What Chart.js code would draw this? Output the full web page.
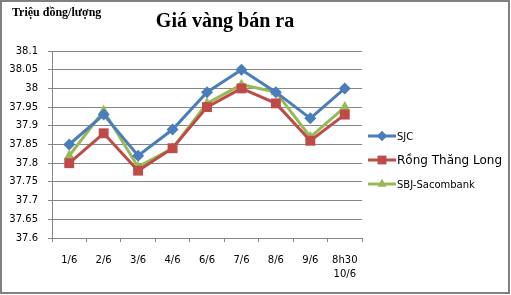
<!DOCTYPE html>
<html>
<head>
<meta charset="utf-8">
<script src="https://cdn.jsdelivr.net/npm/chart.js@4/dist/chart.umd.min.js"></script>
<style>
html,body{margin:0;padding:0;background:#fff;}
#wrap{width:511px;height:295px;position:relative;}
</style>
</head>
<body>
<div id="wrap"><canvas id="goldChart" width="511" height="295"></canvas></div>
<script>

const dayLabels = ["1/6","2/6","3/6","4/6","6/6","7/6","8/6","9/6",["8h30","10/6"]];
const sjcPrice = [37.85,37.93,37.82,37.89,37.99,38.05,37.99,37.92,38.00];
const rongPrice = [37.80,37.88,37.78,37.84,37.95,38.00,37.96,37.86,37.93];
const sbjPrice = [37.82,37.94,37.79,37.84,37.96,38.01,37.99,37.87,37.95];
const yTicks = [37.6,37.65,37.7,37.75,37.8,37.85,37.9,37.95,38,38.05,38.1];

const gridGray = "#868686";

// title, unit text, outer frame and legend
const extras = {
id:"extras",
afterDraw(chart){
const ctx = chart.ctx;
ctx.save();
ctx.strokeStyle = "#808080";
ctx.lineWidth = 2;
ctx.strokeRect(1,1,508,292);

ctx.fillStyle = "#000";
ctx.textBaseline = "middle";
ctx.textAlign = "left";
ctx.font = "bold 12px 'Liberation Serif'";
ctx.fillText("Triệu đồng/lượng",12,13);
ctx.textAlign = "center";
ctx.font = "bold 20px 'Liberation Serif'";
ctx.fillText("Giá vàng bán ra",225,22);

// legend
const rows = [
{text:"SJC",y:136,font:"10px 'DejaVu Sans'"},
{text:"Rồng Thăng Long",y:160,font:"12px 'DejaVu Sans'"},
{text:"SBJ-Sacombank",y:184,font:"10px 'DejaVu Sans'"}
];
chart.data.datasets.forEach((ds,i)=>{
const r = rows[i];
ctx.strokeStyle = ds.borderColor;
ctx.lineWidth = 3;
ctx.beginPath();
ctx.moveTo(368,r.y);
ctx.lineTo(396,r.y);
ctx.stroke();
ctx.fillStyle = ds.backgroundColor;
Chart.helpers.drawPoint(ctx,{pointStyle:ds.pointStyle,radius:ds.pointRadius-1,rotation:0,borderWidth:0},382,r.y);
ctx.fill();
ctx.fillStyle = "#000";
ctx.textAlign = "left";
ctx.font = r.font;
ctx.fillText(r.text,397,r.y+1);
});
ctx.restore();
}
};

new Chart("goldChart",{
type:"line",
data:{
labels:dayLabels,
datasets:[
{label:"SJC",data:sjcPrice,borderColor:"#4a7ebb",backgroundColor:"#4a7ebb",borderWidth:3,pointStyle:"rectRot",pointRadius:6,pointBorderWidth:0,tension:0},
{label:"Rồng Thăng Long",data:rongPrice,borderColor:"#be4b48",backgroundColor:"#be4b48",borderWidth:3,pointStyle:"rect",pointRadius:7,pointBorderWidth:0,tension:0},
{label:"SBJ-Sacombank",data:sbjPrice,borderColor:"#98b954",backgroundColor:"#98b954",borderWidth:3,pointStyle:"triangle",pointRadius:6,pointBorderWidth:0,tension:0}
]
},
options:{
responsive:false,
animation:false,
layout:{padding:{left:0,top:51,right:149,bottom:0}},
plugins:{legend:{display:false},title:{display:false},tooltip:{enabled:false}},
scales:{
x:{
offset:true,
grid:{offset:true,drawOnChartArea:false,color:gridGray,tickLength:4,drawTicks:true},
border:{display:false},
ticks:{color:"#000",font:{family:"DejaVu Sans",size:10,lineHeight:1.4},padding:11,maxRotation:0,autoSkip:false},
afterFit(s){s.height=57;}
},
y:{
min:37.6,max:38.1,
afterBuildTicks(s){s.ticks=yTicks.map(v=>({value:v}));},
grid:{color:gridGray,tickLength:4},
border:{color:gridGray},
ticks:{color:"#000",font:{family:"DejaVu Sans",size:10},padding:10,callback:v=>String(Math.round(v*100)/100)},
afterFit(s){s.width=52;}
}
}
},
plugins:[extras]
});

</script>
</body>
</html>
